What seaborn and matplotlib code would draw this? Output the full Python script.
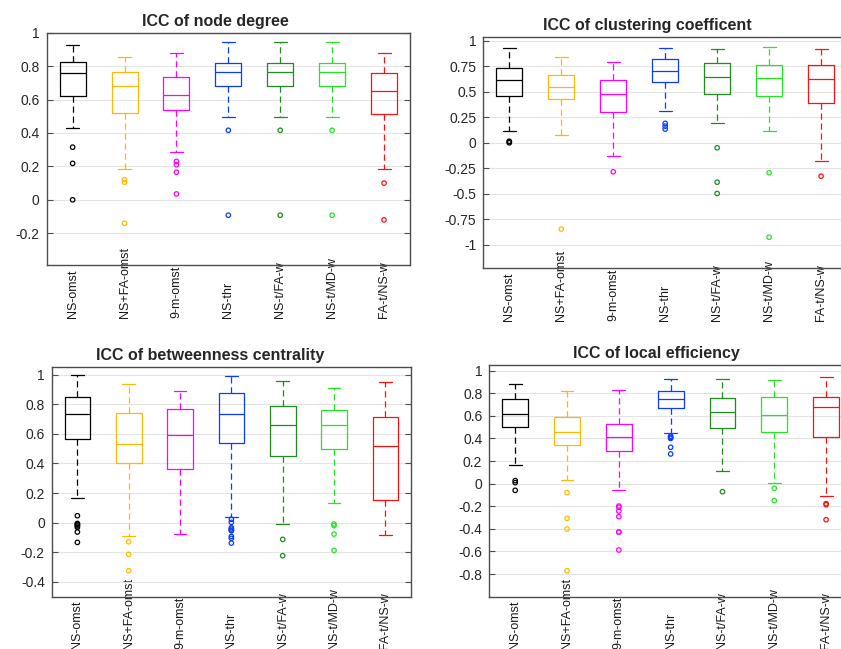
import numpy as np
import pandas as pd
import matplotlib
matplotlib.use("Agg")
import matplotlib.pyplot as plt
from matplotlib.ticker import FuncFormatter
import seaborn as sns


methods = ["NS-omst", "NS+FA-omst", "9-m-omst", "NS-thr", "NS-t/FA-w", "NS-t/MD-w", "FA-t/NS-w"]
colors = ["#000000", "#FFBA00", "#FF00FF", "#0A3CFF", "#1E8C1E", "#22E622", "#FF1010"]

# ICC of node degree (whisker low, q1, median, q3, whisker high, outliers)
deg_lo = [0.43, 0.185, 0.286, 0.496, 0.496, 0.496, 0.184]
deg_q1 = [0.622, 0.522, 0.54, 0.684, 0.684, 0.684, 0.516]
deg_med = [0.756, 0.682, 0.63, 0.766, 0.766, 0.766, 0.65]
deg_q3 = [0.822, 0.762, 0.736, 0.818, 0.818, 0.818, 0.76]
deg_hi = [0.926, 0.856, 0.876, 0.942, 0.942, 0.942, 0.876]
deg_out = [[0.315, 0.218, 0.0], [0.12, 0.105, -0.14], [0.23, 0.21, 0.165, 0.035],
           [0.416, -0.092], [0.416, -0.092], [0.416, -0.092], [0.10, -0.12]]

# ICC of clustering coefficent
clu_lo = [0.114, 0.078, -0.134, 0.314, 0.19, 0.114, -0.176]
clu_q1 = [0.461, 0.425, 0.304, 0.592, 0.48, 0.454, 0.386]
clu_med = [0.611, 0.549, 0.48, 0.703, 0.641, 0.634, 0.627]
clu_q3 = [0.735, 0.66, 0.611, 0.817, 0.778, 0.758, 0.758]
clu_hi = [0.931, 0.843, 0.788, 0.928, 0.922, 0.938, 0.918]
clu_out = [[0.015, 0.01, 0.0], [-0.846], [-0.284], [0.19, 0.163, 0.134],
           [-0.049, -0.386, -0.497], [-0.294, -0.925], [-0.327]]

# ICC of betweenness centrality
btw_lo = [0.165, -0.088, -0.077, 0.041, -0.009, 0.131, -0.081]
btw_q1 = [0.562, 0.406, 0.366, 0.54, 0.449, 0.497, 0.153]
btw_med = [0.734, 0.533, 0.594, 0.736, 0.659, 0.661, 0.519]
btw_q3 = [0.849, 0.738, 0.77, 0.874, 0.788, 0.761, 0.713]
btw_hi = [0.998, 0.939, 0.887, 0.993, 0.957, 0.912, 0.95]
btw_out = [[0.047, -0.005, -0.01, -0.016, -0.023, -0.032, -0.063, -0.133],
           [-0.129, -0.214, -0.325], [],
           [0.023, 0.002, -0.034, -0.043, -0.052, -0.054, -0.093, -0.106, -0.138],
           [-0.113, -0.223], [-0.009, -0.02, -0.077, -0.187], []]

# ICC of local efficiency
eff_lo = [0.162, 0.035, -0.059, 0.451, 0.115, 0.006, -0.112]
eff_q1 = [0.501, 0.342, 0.286, 0.67, 0.493, 0.457, 0.41]
eff_med = [0.614, 0.46, 0.41, 0.746, 0.637, 0.608, 0.678]
eff_q3 = [0.752, 0.587, 0.531, 0.817, 0.758, 0.77, 0.764]
eff_hi = [0.885, 0.82, 0.829, 0.929, 0.929, 0.914, 0.941]
eff_out = [[0.027, 0.009, -0.059], [-0.08, -0.307, -0.401, -0.77],
           [-0.198, -0.209, -0.242, -0.292, -0.428, -0.428, -0.587],
           [0.42, 0.41, 0.40, 0.322, 0.263], [-0.071], [-0.041, -0.15],
           [-0.177, -0.186, -0.319]]

sns.set_style("white")
plt.rcParams["font.family"] = ["Liberation Sans", "DejaVu Sans"]

pal = dict(zip(methods, colors))


def box_frame(lo, q1, med, q3, hi):
    # five values per method: with whis=(0, 100) seaborn draws exactly these stats
    rows = []
    for m, a, b, c, d, e in zip(methods, lo, q1, med, q3, hi):
        for v in (a, b, c, d, e):
            rows.append((m, v))
    return pd.DataFrame(rows, columns=["method", "icc"])


def out_frame(out):
    rows = [(m, v) for m, vals in zip(methods, out) for v in vals]
    return pd.DataFrame(rows, columns=["method", "icc"])


def panel(ax, title, title_x, stats, out, ylim, yticks):
    sns.boxplot(
        data=box_frame(*stats), x="method", y="icc", hue="method",
        order=methods, hue_order=methods, palette=pal, fill=False,
        width=0.5, whis=(0, 100), linewidth=0.9, showfliers=False,
        whiskerprops=dict(linestyle=(0, (5, 3))), legend=False, ax=ax,
    )
    n = len(ax.collections)
    sns.stripplot(
        data=out_frame(out), x="method", y="icc", hue="method",
        order=methods, hue_order=methods, palette=pal, jitter=False,
        size=3.2, legend=False, ax=ax,
    )
    for coll in ax.collections[n:]:
        fc = coll.get_facecolors()
        coll.set_edgecolors(fc)
        coll.set_facecolors("none")
        coll.set_linewidth(0.9)

    ax.set_xlim(-0.5, 6.5)
    ax.set_ylim(*ylim)
    ax.set_yticks(yticks)
    ax.yaxis.set_major_formatter(FuncFormatter(lambda v, p: f"{round(v, 2) + 0:g}"))
    ax.set_xticks(range(len(methods)))
    ax.set_xticklabels(methods, rotation=90, va="bottom", fontsize=9, color="#1a1a1a")
    ax.tick_params(axis="x", length=0, pad=38)
    ax.tick_params(axis="y", direction="in", left=True, right=True, length=4,
                   width=0.8, color="#4d4d4d", labelcolor="#262626", labelsize=10, pad=5)
    ax.yaxis.grid(True, color="#e4e4e4", lw=0.8)
    ax.set_axisbelow(True)
    for s in ax.spines.values():
        s.set_color("#4d4d4d")
        s.set_linewidth(1.0)
    ax.set_xlabel("")
    ax.set_ylabel("")
    ax.set_title(title, fontsize=11.5, fontweight="bold", pad=5, x=title_x)


fig = plt.figure(figsize=(8.41, 6.49), dpi=100)
ax1 = fig.add_axes([0.0555, 0.5917, 0.4320, 0.3579])
ax2 = fig.add_axes([0.5747, 0.5866, 0.4325, 0.3569])
ax3 = fig.add_axes([0.0615, 0.0806, 0.4272, 0.3535])
ax4 = fig.add_axes([0.5818, 0.0806, 0.4313, 0.3570])

panel(ax1, "ICC of node degree", 0.465,
      (deg_lo, deg_q1, deg_med, deg_q3, deg_hi), deg_out,
      (-0.39, 1.0), np.arange(-0.2, 1.01, 0.2))
panel(ax2, "ICC of clustering coefficent", 0.452,
      (clu_lo, clu_q1, clu_med, clu_q3, clu_hi), clu_out,
      (-1.23, 1.04), np.arange(-1.0, 1.01, 0.25))
panel(ax3, "ICC of betweenness centrality", 0.441,
      (btw_lo, btw_q1, btw_med, btw_q3, btw_hi), btw_out,
      (-0.5, 1.05), np.arange(-0.4, 1.01, 0.2))
panel(ax4, "ICC of local efficiency", 0.461,
      (eff_lo, eff_q1, eff_med, eff_q3, eff_hi), eff_out,
      (-1.0, 1.05), np.arange(-0.8, 1.01, 0.2))

fig.savefig("out.png", dpi=100)
